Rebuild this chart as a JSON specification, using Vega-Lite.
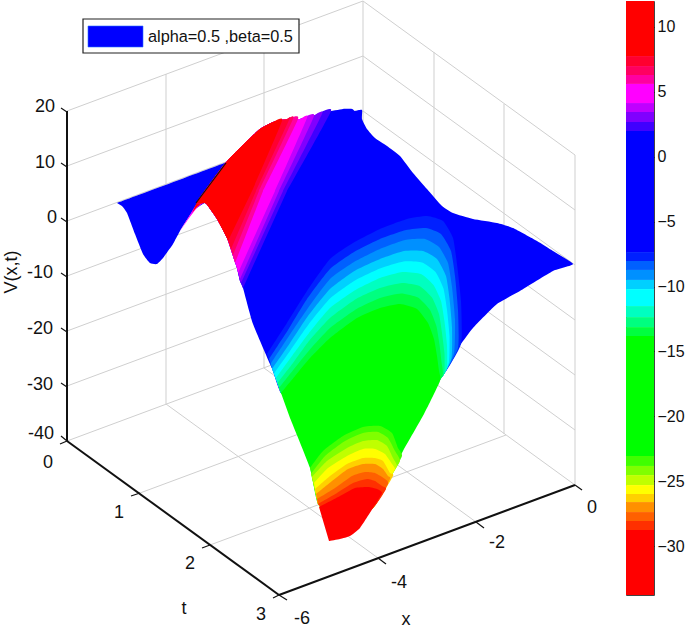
{"$schema":"https://vega.github.io/schema/vega-lite/v6.json","padding":0,"spacing":0,"background":"white","config":{"view":{"stroke":null},"concat":{"spacing":0}},
"datasets":{
"segments":[
{"k":"grid","x1":67,"y1":385,"x2":363,"y2":275},{"k":"grid","x1":67,"y1":330,"x2":363,"y2":220},{"k":"grid","x1":67,"y1":275,"x2":363,"y2":165},{"k":"grid","x1":67,"y1":220,"x2":363,"y2":110},{"k":"grid","x1":67,"y1":165,"x2":363,"y2":55},{"k":"grid","x1":67,"y1":110,"x2":363,"y2":0},{"k":"grid","x1":67,"y1":440,"x2":363,"y2":330},
{"k":"grid","x1":363,"y1":330,"x2":575,"y2":484},{"k":"grid","x1":363,"y1":275,"x2":575,"y2":429},{"k":"grid","x1":363,"y1":220,"x2":575,"y2":374},{"k":"grid","x1":363,"y1":165,"x2":575,"y2":319},{"k":"grid","x1":363,"y1":110,"x2":575,"y2":264},{"k":"grid","x1":363,"y1":55,"x2":575,"y2":209},{"k":"grid","x1":363,"y1":0,"x2":575,"y2":154},
{"k":"grid","x1":166,"y1":403,"x2":166,"y2":73},{"k":"grid","x1":264,"y1":367,"x2":264,"y2":37},{"k":"grid","x1":363,"y1":330,"x2":363,"y2":0},{"k":"grid","x1":434,"y1":381,"x2":434,"y2":51},{"k":"grid","x1":504,"y1":433,"x2":504,"y2":103},{"k":"grid","x1":575,"y1":484,"x2":575,"y2":154},
{"k":"grid","x1":140,"y1":492,"x2":436,"y2":382},{"k":"grid","x1":210,"y1":544,"x2":506,"y2":434},{"k":"grid","x1":166,"y1":403,"x2":378,"y2":557},{"k":"grid","x1":264,"y1":367,"x2":476,"y2":521},
{"k":"axis","x1":67,"y1":110,"x2":67,"y2":440},{"k":"axis","x1":67,"y1":440,"x2":279,"y2":594},{"k":"axis","x1":279,"y1":594,"x2":575,"y2":484},
{"k":"tick","x1":61,"y1":107,"x2":67,"y2":111},{"k":"tick","x1":61,"y1":162,"x2":67,"y2":166},{"k":"tick","x1":61,"y1":217,"x2":67,"y2":221},{"k":"tick","x1":61,"y1":272,"x2":67,"y2":276},{"k":"tick","x1":61,"y1":327,"x2":67,"y2":331},{"k":"tick","x1":61,"y1":382,"x2":67,"y2":386},{"k":"tick","x1":61,"y1":435,"x2":67,"y2":440},
{"k":"tick","x1":60,"y1":443,"x2":67,"y2":440},{"k":"tick","x1":131,"y1":495,"x2":140,"y2":492},{"k":"tick","x1":202,"y1":547,"x2":210,"y2":544},{"k":"tick","x1":273,"y1":597,"x2":279,"y2":594},
{"k":"tick","x1":279,"y1":594,"x2":287,"y2":599},{"k":"tick","x1":378,"y1":557,"x2":386,"y2":563},{"k":"tick","x1":476,"y1":521,"x2":484,"y2":527},{"k":"tick","x1":575,"y1":484,"x2":582,"y2":489},
{"k":"tick","x1":196,"y1":202,"x2":226,"y2":162}
],
"boxes":[{"k":"frame","x1":83,"y1":18,"x2":299,"y2":52},{"k":"swatch","x1":88,"y1":25,"x2":143,"y2":46}],
"labels":[
{"t":"20","px":45,"py":106},{"t":"10","px":45,"py":162},{"t":"0","px":52,"py":217},{"t":"-10","px":40,"py":272},{"t":"-20","px":40,"py":328},{"t":"-30","px":40,"py":384},{"t":"-40","px":41,"py":433},
{"t":"0","px":48,"py":462},{"t":"1","px":119,"py":512},{"t":"2","px":190,"py":563},{"t":"3","px":261,"py":614},
{"t":"-6","px":302,"py":618},{"t":"-4","px":399,"py":582},{"t":"-2","px":497,"py":542},{"t":"0","px":592,"py":507},
{"t":"t","px":184,"py":608},{"t":"x","px":406,"py":619}],
"ylabel":[{"t":"V(x,t)","px":12,"py":271}],
"legendtext":[{"t":"alpha=0.5 ,beta=0.5","px":148,"py":36}],
"bands":[
{"l":12,"top":12,"bot":7.76},{"l":7.76,"top":7.76,"bot":6.99},{"l":6.99,"top":6.99,"bot":6.3},{"l":6.3,"top":6.3,"bot":5.61},{"l":5.61,"top":5.61,"bot":4.14},{"l":4.14,"top":4.14,"bot":3.45},{"l":3.45,"top":3.45,"bot":2.68},{"l":2.68,"top":2.68,"bot":1.98},{"l":1.98,"top":1.98,"bot":-7.34},{"l":-7.34,"top":-7.34,"bot":-8.03},{"l":-8.03,"top":-8.03,"bot":-8.72},{"l":-8.72,"top":-8.72,"bot":-9.49},{"l":-9.49,"top":-9.49,"bot":-10.19},{"l":-10.19,"top":-10.19,"bot":-11.5},{"l":-11.5,"top":-11.5,"bot":-12.35},{"l":-12.35,"top":-12.35,"bot":-13.12},{"l":-13.12,"top":-13.12,"bot":-13.81},{"l":-13.81,"top":-13.81,"bot":-23.05},{"l":-23.05,"top":-23.05,"bot":-23.82},{"l":-23.82,"top":-23.82,"bot":-24.52},{"l":-24.52,"top":-24.52,"bot":-25.29},{"l":-25.29,"top":-25.29,"bot":-25.98},{"l":-25.98,"top":-25.98,"bot":-26.6},{"l":-26.6,"top":-26.6,"bot":-27.37},{"l":-27.37,"top":-27.37,"bot":-28.06},{"l":-28.06,"top":-28.06,"bot":-28.76},{"l":-28.76,"top":-28.76,"bot":-33.76}],
"surface":[
{"s":"a01","l":1.98,"px":117,"py":202},{"s":"a01","l":1.98,"px":227,"py":161},{"s":"a01","l":1.98,"px":230,"py":157},{"s":"a01","l":1.98,"px":247,"py":140},{"s":"a01","l":1.98,"px":260,"py":128},{"s":"a01","l":1.98,"px":273,"py":121},{"s":"a01","l":1.98,"px":287,"py":118},{"s":"a01","l":1.98,"px":300,"py":118},{"s":"a01","l":1.98,"px":313,"py":115},{"s":"a01","l":1.98,"px":327,"py":111},{"s":"a01","l":1.98,"px":343,"py":108},{"s":"a01","l":1.98,"px":352,"py":108},{"s":"a01","l":1.98,"px":355,"py":110},{"s":"a01","l":1.98,"px":362,"py":109},{"s":"a01","l":1.98,"px":362,"py":118},{"s":"a01","l":1.98,"px":367,"py":128},{"s":"a01","l":1.98,"px":375,"py":137},{"s":"a01","l":1.98,"px":387,"py":145},{"s":"a01","l":1.98,"px":400,"py":155},{"s":"a01","l":1.98,"px":413,"py":172},{"s":"a01","l":1.98,"px":427,"py":188},{"s":"a01","l":1.98,"px":442,"py":205},{"s":"a01","l":1.98,"px":453,"py":212},{"s":"a01","l":1.98,"px":473,"py":218},{"s":"a01","l":1.98,"px":497,"py":222},{"s":"a01","l":1.98,"px":513,"py":227},{"s":"a01","l":1.98,"px":537,"py":240},{"s":"a01","l":1.98,"px":553,"py":250},{"s":"a01","l":1.98,"px":573,"py":263},{"s":"a01","l":1.98,"px":553,"py":270},{"s":"a01","l":1.98,"px":520,"py":290},{"s":"a01","l":1.98,"px":497,"py":303},{"s":"a01","l":1.98,"px":473,"py":327},{"s":"a01","l":1.98,"px":461,"py":343},{"s":"a01","l":1.98,"px":455,"py":351},{"s":"a01","l":1.98,"px":450,"py":360},{"s":"a01","l":1.98,"px":442,"py":376},{"s":"a01","l":1.98,"px":415,"py":400},{"s":"a01","l":1.98,"px":300,"py":400},{"s":"a01","l":1.98,"px":281,"py":392},{"s":"a01","l":1.98,"px":273,"py":370},{"s":"a01","l":1.98,"px":270,"py":363},{"s":"a01","l":1.98,"px":253,"py":323},{"s":"a01","l":1.98,"px":243,"py":287},{"s":"a01","l":1.98,"px":240,"py":280},{"s":"a01","l":1.98,"px":237,"py":267},{"s":"a01","l":1.98,"px":233,"py":255},{"s":"a01","l":1.98,"px":227,"py":237},{"s":"a01","l":1.98,"px":222,"py":227},{"s":"a01","l":1.98,"px":217,"py":218},{"s":"a01","l":1.98,"px":208,"py":205},{"s":"a01","l":1.98,"px":205,"py":202},{"s":"a01","l":1.98,"px":193,"py":210},{"s":"a01","l":1.98,"px":180,"py":230},{"s":"a01","l":1.98,"px":173,"py":243},{"s":"a01","l":1.98,"px":163,"py":257},{"s":"a01","l":1.98,"px":157,"py":263},{"s":"a01","l":1.98,"px":150,"py":262},{"s":"a01","l":1.98,"px":143,"py":253},{"s":"a01","l":1.98,"px":135,"py":233},{"s":"a01","l":1.98,"px":127,"py":212},{"s":"a01","l":1.98,"px":122,"py":205},

{"s":"a02","l":5.61,"px":180,"py":230},{"s":"a02","l":5.61,"px":188,"py":217},{"s":"a02","l":5.61,"px":198,"py":201},{"s":"a02","l":5.61,"px":204,"py":201},{"s":"a02","l":5.61,"px":196,"py":208},{"s":"a02","l":5.61,"px":187,"py":220},
{"s":"a03","l":12,"px":197,"py":201},{"s":"a03","l":12,"px":203,"py":201},{"s":"a03","l":12,"px":197,"py":206},{"s":"a03","l":12,"px":192,"py":212},

{"s":"b01","l":2.68,"px":243,"py":287},{"s":"b01","l":2.68,"px":240,"py":280},{"s":"b01","l":2.68,"px":237,"py":267},{"s":"b01","l":2.68,"px":233,"py":255},{"s":"b01","l":2.68,"px":227,"py":237},{"s":"b01","l":2.68,"px":217,"py":218},{"s":"b01","l":2.68,"px":208,"py":205},{"s":"b01","l":2.68,"px":205,"py":202},{"s":"b01","l":2.68,"px":197,"py":201},{"s":"b01","l":2.68,"px":223,"py":165},{"s":"b01","l":2.68,"px":230,"py":157},{"s":"b01","l":2.68,"px":247,"py":140},{"s":"b01","l":2.68,"px":260,"py":128},{"s":"b01","l":2.68,"px":273,"py":121},{"s":"b01","l":2.68,"px":287,"py":118},{"s":"b01","l":2.68,"px":300,"py":118},{"s":"b01","l":2.68,"px":313,"py":115},{"s":"b01","l":2.68,"px":331,"py":110},{"s":"b01","l":2.68,"px":287,"py":190},

{"s":"b02","l":3.45,"px":241,"py":282},{"s":"b02","l":3.45,"px":240,"py":280},{"s":"b02","l":3.45,"px":237,"py":267},{"s":"b02","l":3.45,"px":233,"py":255},{"s":"b02","l":3.45,"px":227,"py":237},{"s":"b02","l":3.45,"px":217,"py":218},{"s":"b02","l":3.45,"px":208,"py":205},{"s":"b02","l":3.45,"px":205,"py":202},{"s":"b02","l":3.45,"px":197,"py":201},{"s":"b02","l":3.45,"px":223,"py":165},{"s":"b02","l":3.45,"px":230,"py":157},{"s":"b02","l":3.45,"px":247,"py":140},{"s":"b02","l":3.45,"px":260,"py":128},{"s":"b02","l":3.45,"px":273,"py":121},{"s":"b02","l":3.45,"px":287,"py":118},{"s":"b02","l":3.45,"px":300,"py":118},{"s":"b02","l":3.45,"px":313,"py":115},{"s":"b02","l":3.45,"px":322,"py":113},{"s":"b02","l":3.45,"px":283,"py":190},

{"s":"b03","l":4.14,"px":240,"py":278},{"s":"b03","l":4.14,"px":237,"py":267},{"s":"b03","l":4.14,"px":233,"py":255},{"s":"b03","l":4.14,"px":227,"py":237},{"s":"b03","l":4.14,"px":217,"py":218},{"s":"b03","l":4.14,"px":208,"py":205},{"s":"b03","l":4.14,"px":205,"py":202},{"s":"b03","l":4.14,"px":197,"py":201},{"s":"b03","l":4.14,"px":223,"py":165},{"s":"b03","l":4.14,"px":230,"py":157},{"s":"b03","l":4.14,"px":247,"py":140},{"s":"b03","l":4.14,"px":260,"py":128},{"s":"b03","l":4.14,"px":273,"py":121},{"s":"b03","l":4.14,"px":287,"py":118},{"s":"b03","l":4.14,"px":300,"py":118},{"s":"b03","l":4.14,"px":314,"py":115},{"s":"b03","l":4.14,"px":279,"py":190},

{"s":"b04","l":5.61,"px":238,"py":272},{"s":"b04","l":5.61,"px":237,"py":267},{"s":"b04","l":5.61,"px":233,"py":255},{"s":"b04","l":5.61,"px":227,"py":237},{"s":"b04","l":5.61,"px":217,"py":218},{"s":"b04","l":5.61,"px":208,"py":205},{"s":"b04","l":5.61,"px":205,"py":202},{"s":"b04","l":5.61,"px":197,"py":201},{"s":"b04","l":5.61,"px":223,"py":165},{"s":"b04","l":5.61,"px":230,"py":157},{"s":"b04","l":5.61,"px":247,"py":140},{"s":"b04","l":5.61,"px":260,"py":128},{"s":"b04","l":5.61,"px":273,"py":121},{"s":"b04","l":5.61,"px":287,"py":118},{"s":"b04","l":5.61,"px":300,"py":118},{"s":"b04","l":5.61,"px":307,"py":117},{"s":"b04","l":5.61,"px":275,"py":190},

{"s":"b05","l":6.3,"px":235,"py":262},{"s":"b05","l":6.3,"px":233,"py":255},{"s":"b05","l":6.3,"px":227,"py":237},{"s":"b05","l":6.3,"px":217,"py":218},{"s":"b05","l":6.3,"px":208,"py":205},{"s":"b05","l":6.3,"px":205,"py":202},{"s":"b05","l":6.3,"px":197,"py":201},{"s":"b05","l":6.3,"px":223,"py":165},{"s":"b05","l":6.3,"px":230,"py":157},{"s":"b05","l":6.3,"px":247,"py":140},{"s":"b05","l":6.3,"px":260,"py":128},{"s":"b05","l":6.3,"px":273,"py":121},{"s":"b05","l":6.3,"px":287,"py":118},{"s":"b05","l":6.3,"px":298,"py":118},{"s":"b05","l":6.3,"px":263,"py":190},

{"s":"b06","l":6.99,"px":233,"py":254},{"s":"b06","l":6.99,"px":227,"py":237},{"s":"b06","l":6.99,"px":217,"py":218},{"s":"b06","l":6.99,"px":208,"py":205},{"s":"b06","l":6.99,"px":205,"py":202},{"s":"b06","l":6.99,"px":197,"py":201},{"s":"b06","l":6.99,"px":223,"py":165},{"s":"b06","l":6.99,"px":230,"py":157},{"s":"b06","l":6.99,"px":247,"py":140},{"s":"b06","l":6.99,"px":260,"py":128},{"s":"b06","l":6.99,"px":273,"py":121},{"s":"b06","l":6.99,"px":287,"py":118},{"s":"b06","l":6.99,"px":293,"py":118},{"s":"b06","l":6.99,"px":259,"py":190},

{"s":"b07","l":7.76,"px":231,"py":248},{"s":"b07","l":7.76,"px":227,"py":237},{"s":"b07","l":7.76,"px":217,"py":218},{"s":"b07","l":7.76,"px":208,"py":205},{"s":"b07","l":7.76,"px":205,"py":202},{"s":"b07","l":7.76,"px":197,"py":201},{"s":"b07","l":7.76,"px":223,"py":165},{"s":"b07","l":7.76,"px":230,"py":157},{"s":"b07","l":7.76,"px":247,"py":140},{"s":"b07","l":7.76,"px":260,"py":128},{"s":"b07","l":7.76,"px":273,"py":121},{"s":"b07","l":7.76,"px":287,"py":118},{"s":"b07","l":7.76,"px":289,"py":119},{"s":"b07","l":7.76,"px":256,"py":190},

{"s":"b08","l":12,"px":228,"py":240},{"s":"b08","l":12,"px":227,"py":237},{"s":"b08","l":12,"px":217,"py":218},{"s":"b08","l":12,"px":208,"py":205},{"s":"b08","l":12,"px":205,"py":202},{"s":"b08","l":12,"px":197,"py":201},{"s":"b08","l":12,"px":223,"py":165},{"s":"b08","l":12,"px":230,"py":157},{"s":"b08","l":12,"px":247,"py":140},{"s":"b08","l":12,"px":260,"py":128},{"s":"b08","l":12,"px":273,"py":121},{"s":"b08","l":12,"px":282,"py":120},{"s":"b08","l":12,"px":252,"py":190},

{"s":"c0","l":-7.34,"px":267,"py":353},{"s":"c0","l":-7.34,"px":287,"py":322},{"s":"c0","l":-7.34,"px":307,"py":290},{"s":"c0","l":-7.34,"px":330,"py":258},{"s":"c0","l":-7.34,"px":353,"py":242},{"s":"c0","l":-7.34,"px":380,"py":228},{"s":"c0","l":-7.34,"px":407,"py":218},{"s":"c0","l":-7.34,"px":427,"py":215},{"s":"c0","l":-7.34,"px":443,"py":220},{"s":"c0","l":-7.34,"px":453,"py":237},{"s":"c0","l":-7.34,"px":457,"py":263},{"s":"c0","l":-7.34,"px":461,"py":300},{"s":"c0","l":-7.34,"px":461,"py":343},{"s":"c0","l":-7.34,"px":442,"py":376},{"s":"c0","l":-7.34,"px":415,"py":400},{"s":"c0","l":-7.34,"px":300,"py":400},{"s":"c0","l":-7.34,"px":281,"py":392},

{"s":"c1","l":-8.03,"px":269,"py":358},{"s":"c1","l":-8.03,"px":288,"py":329},{"s":"c1","l":-8.03,"px":307,"py":298},{"s":"c1","l":-8.03,"px":330,"py":268},{"s":"c1","l":-8.03,"px":354,"py":251},{"s":"c1","l":-8.03,"px":380,"py":238},{"s":"c1","l":-8.03,"px":406,"py":229},{"s":"c1","l":-8.03,"px":426,"py":227},{"s":"c1","l":-8.03,"px":441,"py":233},{"s":"c1","l":-8.03,"px":451,"py":250},{"s":"c1","l":-8.03,"px":455,"py":275},{"s":"c1","l":-8.03,"px":458,"py":309},{"s":"c1","l":-8.03,"px":458,"py":347},{"s":"c1","l":-8.03,"px":442,"py":376},{"s":"c1","l":-8.03,"px":415,"py":400},{"s":"c1","l":-8.03,"px":300,"py":400},{"s":"c1","l":-8.03,"px":281,"py":392},

{"s":"c2","l":-8.72,"px":270.5,"py":363},{"s":"c2","l":-8.72,"px":289,"py":335},{"s":"c2","l":-8.72,"px":308,"py":307},{"s":"c2","l":-8.72,"px":330,"py":278},{"s":"c2","l":-8.72,"px":354,"py":261},{"s":"c2","l":-8.72,"px":380,"py":248},{"s":"c2","l":-8.72,"px":405,"py":239},{"s":"c2","l":-8.72,"px":425,"py":238},{"s":"c2","l":-8.72,"px":439,"py":246},{"s":"c2","l":-8.72,"px":448,"py":262},{"s":"c2","l":-8.72,"px":452,"py":286},{"s":"c2","l":-8.72,"px":455,"py":318},{"s":"c2","l":-8.72,"px":454,"py":352},{"s":"c2","l":-8.72,"px":442,"py":376},{"s":"c2","l":-8.72,"px":415,"py":400},{"s":"c2","l":-8.72,"px":300,"py":400},{"s":"c2","l":-8.72,"px":281,"py":392},

{"s":"c3","l":-9.49,"px":272,"py":368},{"s":"c3","l":-9.49,"px":290,"py":342},{"s":"c3","l":-9.49,"px":308,"py":315},{"s":"c3","l":-9.49,"px":330,"py":288},{"s":"c3","l":-9.49,"px":354.5,"py":270},{"s":"c3","l":-9.49,"px":380,"py":258},{"s":"c3","l":-9.49,"px":404,"py":250},{"s":"c3","l":-9.49,"px":423,"py":250},{"s":"c3","l":-9.49,"px":437,"py":258},{"s":"c3","l":-9.49,"px":446,"py":275},{"s":"c3","l":-9.49,"px":449.5,"py":297.5},{"s":"c3","l":-9.49,"px":452,"py":326},{"s":"c3","l":-9.49,"px":451.5,"py":357},{"s":"c3","l":-9.49,"px":442,"py":376},{"s":"c3","l":-9.49,"px":415,"py":400},{"s":"c3","l":-9.49,"px":300,"py":400},{"s":"c3","l":-9.49,"px":281,"py":392},

{"s":"c4","l":-10.19,"px":274,"py":372.5},{"s":"c4","l":-10.19,"px":291,"py":348.5},{"s":"c4","l":-10.19,"px":308.5,"py":323.5},{"s":"c4","l":-10.19,"px":330,"py":297.5},{"s":"c4","l":-10.19,"px":355,"py":279.5},{"s":"c4","l":-10.19,"px":380,"py":267.5},{"s":"c4","l":-10.19,"px":403.5,"py":260.5},{"s":"c4","l":-10.19,"px":422,"py":261.5},{"s":"c4","l":-10.19,"px":435.5,"py":271},{"s":"c4","l":-10.19,"px":443.5,"py":287.5},{"s":"c4","l":-10.19,"px":447,"py":309},{"s":"c4","l":-10.19,"px":449.5,"py":335},{"s":"c4","l":-10.19,"px":449,"py":361},{"s":"c4","l":-10.19,"px":442,"py":376},{"s":"c4","l":-10.19,"px":415,"py":400},{"s":"c4","l":-10.19,"px":300,"py":400},{"s":"c4","l":-10.19,"px":281,"py":392},

{"s":"c5","l":-11.5,"px":276,"py":377},{"s":"c5","l":-11.5,"px":292,"py":355},{"s":"c5","l":-11.5,"px":309,"py":332},{"s":"c5","l":-11.5,"px":330,"py":307},{"s":"c5","l":-11.5,"px":355.5,"py":289},{"s":"c5","l":-11.5,"px":380,"py":277},{"s":"c5","l":-11.5,"px":402.5,"py":271},{"s":"c5","l":-11.5,"px":421,"py":273},{"s":"c5","l":-11.5,"px":433.5,"py":284},{"s":"c5","l":-11.5,"px":441,"py":300},{"s":"c5","l":-11.5,"px":444.5,"py":320.5},{"s":"c5","l":-11.5,"px":447,"py":344},{"s":"c5","l":-11.5,"px":447,"py":366},{"s":"c5","l":-11.5,"px":442,"py":376},{"s":"c5","l":-11.5,"px":415,"py":400},{"s":"c5","l":-11.5,"px":300,"py":400},{"s":"c5","l":-11.5,"px":281,"py":392},

{"s":"c6","l":-12.35,"px":277.5,"py":382},{"s":"c6","l":-12.35,"px":293,"py":362},{"s":"c6","l":-12.35,"px":309,"py":340},{"s":"c6","l":-12.35,"px":330,"py":317},{"s":"c6","l":-12.35,"px":356,"py":298},{"s":"c6","l":-12.35,"px":380,"py":287},{"s":"c6","l":-12.35,"px":402,"py":282},{"s":"c6","l":-12.35,"px":419.5,"py":285},{"s":"c6","l":-12.35,"px":432,"py":296.5},{"s":"c6","l":-12.35,"px":439,"py":313},{"s":"c6","l":-12.35,"px":442,"py":332},{"s":"c6","l":-12.35,"px":444.5,"py":352.5},{"s":"c6","l":-12.35,"px":444.5,"py":371},{"s":"c6","l":-12.35,"px":442,"py":376},{"s":"c6","l":-12.35,"px":415,"py":400},{"s":"c6","l":-12.35,"px":300,"py":400},{"s":"c6","l":-12.35,"px":281,"py":392},

{"s":"c7","l":-13.12,"px":279,"py":387},{"s":"c7","l":-13.12,"px":294,"py":368},{"s":"c7","l":-13.12,"px":309.5,"py":349},{"s":"c7","l":-13.12,"px":330,"py":327},{"s":"c7","l":-13.12,"px":356.5,"py":308},{"s":"c7","l":-13.12,"px":380,"py":297},{"s":"c7","l":-13.12,"px":401,"py":292.5},{"s":"c7","l":-13.12,"px":418,"py":296.5},{"s":"c7","l":-13.12,"px":430,"py":309},{"s":"c7","l":-13.12,"px":436.5,"py":325.5},{"s":"c7","l":-13.12,"px":439.5,"py":343.5},{"s":"c7","l":-13.12,"px":441.5,"py":361},{"s":"c7","l":-13.12,"px":442,"py":376},{"s":"c7","l":-13.12,"px":415,"py":400},{"s":"c7","l":-13.12,"px":300,"py":400},{"s":"c7","l":-13.12,"px":281,"py":392},

{"s":"c8","l":-13.81,"px":281,"py":392},{"s":"c8","l":-13.81,"px":295,"py":375},{"s":"c8","l":-13.81,"px":310,"py":357},{"s":"c8","l":-13.81,"px":330,"py":337},{"s":"c8","l":-13.81,"px":357,"py":317},{"s":"c8","l":-13.81,"px":380,"py":307},{"s":"c8","l":-13.81,"px":400,"py":303},{"s":"c8","l":-13.81,"px":417,"py":308},{"s":"c8","l":-13.81,"px":428,"py":322},{"s":"c8","l":-13.81,"px":434,"py":338},{"s":"c8","l":-13.81,"px":437,"py":355},{"s":"c8","l":-13.81,"px":439,"py":370},{"s":"c8","l":-13.81,"px":440,"py":380},{"s":"c8","l":-13.81,"px":424,"py":413},{"s":"c8","l":-13.81,"px":403,"py":450},{"s":"c8","l":-13.81,"px":390,"py":477},{"s":"c8","l":-13.81,"px":373,"py":507},{"s":"c8","l":-13.81,"px":340,"py":525},{"s":"c8","l":-13.81,"px":318,"py":503},{"s":"c8","l":-13.81,"px":310,"py":467},{"s":"c8","l":-13.81,"px":290,"py":417},

{"s":"d1","l":-23.05,"px":310,"py":467},{"s":"d1","l":-23.05,"px":323,"py":450},{"s":"d1","l":-23.05,"px":343,"py":435},{"s":"d1","l":-23.05,"px":363,"py":426},{"s":"d1","l":-23.05,"px":380,"py":425},{"s":"d1","l":-23.05,"px":392,"py":432},{"s":"d1","l":-23.05,"px":398,"py":447},{"s":"d1","l":-23.05,"px":402,"py":455},{"s":"d1","l":-23.05,"px":390,"py":477},{"s":"d1","l":-23.05,"px":373,"py":507},{"s":"d1","l":-23.05,"px":340,"py":525},{"s":"d1","l":-23.05,"px":318,"py":503},

{"s":"d2","l":-23.82,"px":311,"py":473},{"s":"d2","l":-23.82,"px":325,"py":455},{"s":"d2","l":-23.82,"px":345,"py":440},{"s":"d2","l":-23.82,"px":363,"py":432},{"s":"d2","l":-23.82,"px":378,"py":431},{"s":"d2","l":-23.82,"px":388,"py":437},{"s":"d2","l":-23.82,"px":395,"py":450},{"s":"d2","l":-23.82,"px":400,"py":460},{"s":"d2","l":-23.82,"px":390,"py":477},{"s":"d2","l":-23.82,"px":373,"py":507},{"s":"d2","l":-23.82,"px":340,"py":525},{"s":"d2","l":-23.82,"px":318,"py":503},

{"s":"d3","l":-24.52,"px":312,"py":476},{"s":"d3","l":-24.52,"px":327,"py":460},{"s":"d3","l":-24.52,"px":347,"py":447},{"s":"d3","l":-24.52,"px":363,"py":440},{"s":"d3","l":-24.52,"px":377,"py":439},{"s":"d3","l":-24.52,"px":387,"py":445},{"s":"d3","l":-24.52,"px":393,"py":457},{"s":"d3","l":-24.52,"px":397,"py":465},{"s":"d3","l":-24.52,"px":390,"py":477},{"s":"d3","l":-24.52,"px":373,"py":507},{"s":"d3","l":-24.52,"px":340,"py":525},{"s":"d3","l":-24.52,"px":318,"py":503},

{"s":"d4","l":-25.29,"px":314,"py":482},{"s":"d4","l":-25.29,"px":328,"py":467},{"s":"d4","l":-25.29,"px":347,"py":455},{"s":"d4","l":-25.29,"px":363,"py":448},{"s":"d4","l":-25.29,"px":375,"py":448},{"s":"d4","l":-25.29,"px":385,"py":453},{"s":"d4","l":-25.29,"px":392,"py":463},{"s":"d4","l":-25.29,"px":395,"py":468},{"s":"d4","l":-25.29,"px":390,"py":477},{"s":"d4","l":-25.29,"px":373,"py":507},{"s":"d4","l":-25.29,"px":340,"py":525},{"s":"d4","l":-25.29,"px":318,"py":503},

{"s":"d5","l":-25.98,"px":315,"py":488},{"s":"d5","l":-25.98,"px":330,"py":475},{"s":"d5","l":-25.98,"px":347,"py":463},{"s":"d5","l":-25.98,"px":363,"py":457},{"s":"d5","l":-25.98,"px":375,"py":457},{"s":"d5","l":-25.98,"px":383,"py":460},{"s":"d5","l":-25.98,"px":390,"py":472},{"s":"d5","l":-25.98,"px":393,"py":475},{"s":"d5","l":-25.98,"px":373,"py":507},{"s":"d5","l":-25.98,"px":340,"py":525},{"s":"d5","l":-25.98,"px":318,"py":503},

{"s":"d6","l":-26.6,"px":316,"py":493},{"s":"d6","l":-26.6,"px":332,"py":480},{"s":"d6","l":-26.6,"px":348,"py":468},{"s":"d6","l":-26.6,"px":363,"py":463},{"s":"d6","l":-26.6,"px":375,"py":463},{"s":"d6","l":-26.6,"px":383,"py":468},{"s":"d6","l":-26.6,"px":388,"py":475},{"s":"d6","l":-26.6,"px":390,"py":478},{"s":"d6","l":-26.6,"px":373,"py":507},{"s":"d6","l":-26.6,"px":340,"py":525},{"s":"d6","l":-26.6,"px":318,"py":503},

{"s":"d7","l":-27.37,"px":317,"py":498},{"s":"d7","l":-27.37,"px":335,"py":487},{"s":"d7","l":-27.37,"px":352,"py":475},{"s":"d7","l":-27.37,"px":365,"py":471},{"s":"d7","l":-27.37,"px":375,"py":472},{"s":"d7","l":-27.37,"px":385,"py":478},{"s":"d7","l":-27.37,"px":388,"py":483},{"s":"d7","l":-27.37,"px":373,"py":507},{"s":"d7","l":-27.37,"px":340,"py":525},{"s":"d7","l":-27.37,"px":318,"py":503},

{"s":"d8","l":-28.06,"px":318,"py":503},{"s":"d8","l":-28.06,"px":337,"py":492},{"s":"d8","l":-28.06,"px":353,"py":482},{"s":"d8","l":-28.06,"px":367,"py":478},{"s":"d8","l":-28.06,"px":375,"py":480},{"s":"d8","l":-28.06,"px":382,"py":485},{"s":"d8","l":-28.06,"px":386,"py":488},{"s":"d8","l":-28.06,"px":373,"py":507},{"s":"d8","l":-28.06,"px":340,"py":525},

{"s":"d9","l":-28.76,"px":319,"py":506},{"s":"d9","l":-28.76,"px":340,"py":495},{"s":"d9","l":-28.76,"px":355,"py":487},{"s":"d9","l":-28.76,"px":368,"py":486},{"s":"d9","l":-28.76,"px":377,"py":488},{"s":"d9","l":-28.76,"px":382,"py":492},{"s":"d9","l":-28.76,"px":373,"py":507},{"s":"d9","l":-28.76,"px":360,"py":527},{"s":"d9","l":-28.76,"px":350,"py":535},{"s":"d9","l":-28.76,"px":340,"py":538},{"s":"d9","l":-28.76,"px":329,"py":540}
]},
"hconcat":[
{"width":625,"height":630,
"encoding":{"x":{"field":"x1","type":"quantitative","scale":{"domain":[0,625],"nice":false,"zero":false},"axis":null},"y":{"field":"y1","type":"quantitative","scale":{"domain":[630,0],"nice":false,"zero":false},"axis":null}},
"layer":[
{"data":{"name":"segments"},"transform":[{"filter":"datum.k==='grid'"}],"mark":{"type":"rule","stroke":"#cfcfcf","strokeWidth":1},"encoding":{"x2":{"field":"x2"},"y2":{"field":"y2"}}},
{"data":{"name":"surface"},"mark":{"type":"line","fill":"blue","strokeWidth":0,"interpolate":"cardinal","tension":0.5},"encoding":{"x":{"field":"px","type":"quantitative"},"y":{"field":"py","type":"quantitative"},"detail":{"field":"s"},"order":{"value":null},"fill":{"field":"l","type":"ordinal","legend":null,"scale":{"domain":[12,7.76,6.99,6.3,5.61,4.14,3.45,2.68,1.98,-7.34,-8.03,-8.72,-9.49,-10.19,-11.5,-12.35,-13.12,-13.81,-23.05,-23.82,-24.52,-25.29,-25.98,-26.6,-27.37,-28.06,-28.76],"range":["#ff0000","#ff0030","#ff0060","#ff00a0","#ff00ff","#c000ff","#8000ff","#4000ff","#0000ff","#0020ff","#0060ff","#0090ff","#00d0ff","#00ffff","#00ffc0","#00ff80","#00ff40","#00ff00","#40ff00","#80ff00","#c0ff00","#ffff00","#ffd000","#ff9000","#ff6000","#ff3000","#ff0000"]}}}},
{"data":{"name":"segments"},"transform":[{"filter":"datum.k==='axis'"}],"mark":{"type":"rule","stroke":"#111","strokeWidth":2},"encoding":{"x2":{"field":"x2"},"y2":{"field":"y2"}}},
{"data":{"name":"segments"},"transform":[{"filter":"datum.k==='tick'"}],"mark":{"type":"rule","stroke":"#111","strokeWidth":1.2},"encoding":{"x2":{"field":"x2"},"y2":{"field":"y2"}}},
{"data":{"name":"boxes"},"transform":[{"filter":"datum.k==='frame'"}],"mark":{"type":"rect","fill":"white","stroke":"#222","strokeWidth":1.2},"encoding":{"x2":{"field":"x2"},"y2":{"field":"y2"}}},
{"data":{"name":"boxes"},"transform":[{"filter":"datum.k==='swatch'"}],"mark":{"type":"rect","fill":"#0000ff","stroke":"#2a6fff","strokeWidth":0.6},"encoding":{"x2":{"field":"x2"},"y2":{"field":"y2"}}},
{"data":{"name":"legendtext"},"mark":{"type":"text","align":"left","baseline":"middle","font":"Liberation Sans","fontSize":16.3,"fill":"#111"},"encoding":{"x":{"field":"px","type":"quantitative"},"y":{"field":"py","type":"quantitative"},"text":{"field":"t"}}},
{"data":{"name":"labels"},"mark":{"type":"text","align":"center","baseline":"middle","font":"Liberation Sans","fontSize":18,"fill":"#111"},"encoding":{"x":{"field":"px","type":"quantitative"},"y":{"field":"py","type":"quantitative"},"text":{"field":"t"}}},
{"data":{"name":"ylabel"},"mark":{"type":"text","align":"center","baseline":"middle","font":"Liberation Sans","fontSize":18,"angle":270,"fill":"#111"},"encoding":{"x":{"field":"px","type":"quantitative"},"y":{"field":"py","type":"quantitative"},"text":{"field":"t"}}}
]},
{"width":28,"height":594,"view":{"stroke":"#444","strokeWidth":1},
"data":{"name":"bands"},"mark":{"type":"rect"},
"encoding":{"y":{"field":"top","type":"quantitative","scale":{"domain":[-33.76,12],"nice":false,"zero":false},"axis":{"orient":"right","values":[-30,-25,-20,-15,-10,-5,0,5,10],"title":null,"grid":false,"domain":false,"tickSize":-5,"tickColor":"#111","labelPadding":8,"labelFont":"Liberation Sans","labelFontSize":16,"labelColor":"#111"}},"y2":{"field":"bot"},
"fill":{"field":"l","type":"ordinal","legend":null,"scale":{"domain":[12,7.76,6.99,6.3,5.61,4.14,3.45,2.68,1.98,-7.34,-8.03,-8.72,-9.49,-10.19,-11.5,-12.35,-13.12,-13.81,-23.05,-23.82,-24.52,-25.29,-25.98,-26.6,-27.37,-28.06,-28.76],"range":["#ff0000","#ff0030","#ff0060","#ff00a0","#ff00ff","#c000ff","#8000ff","#4000ff","#0000ff","#0020ff","#0060ff","#0090ff","#00d0ff","#00ffff","#00ffc0","#00ff80","#00ff40","#00ff00","#40ff00","#80ff00","#c0ff00","#ffff00","#ffd000","#ff9000","#ff6000","#ff3000","#ff0000"]}}}}
],"resolve":{"scale":{"fill":"independent","x":"independent","y":"independent"}}}
